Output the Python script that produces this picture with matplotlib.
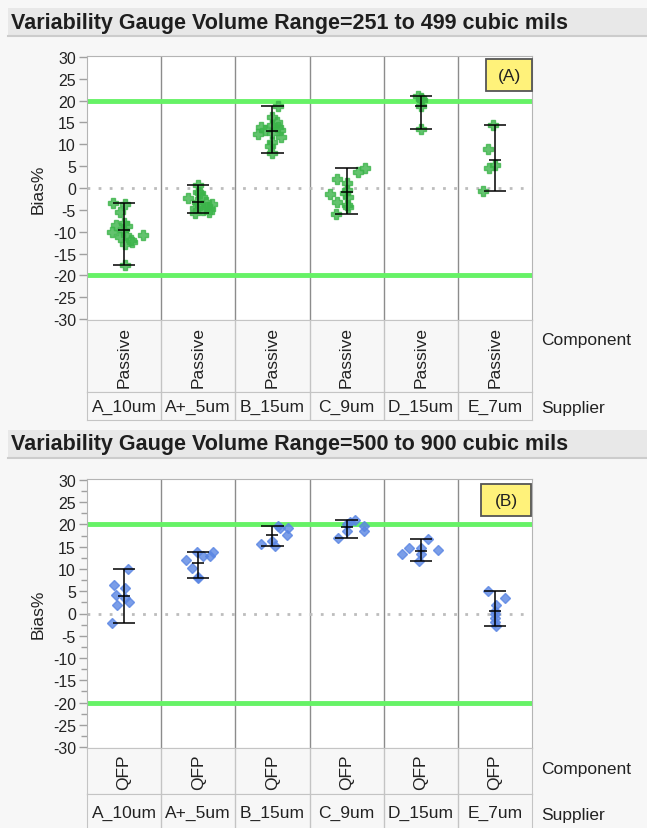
import matplotlib.pyplot as plt
from matplotlib.patches import Rectangle
from matplotlib.lines import Line2D

plt.rcParams['font.family'] = ['Liberation Sans', 'DejaVu Sans']
plt.rcParams['axes.unicode_minus'] = False

W, H = 647, 829

suppliers = ["A_10um", "A+_5um", "B_15um", "C_9um", "D_15um", "E_7um"]

# Bias% per supplier, volume range 251 to 499 cubic mils (Passive)
passive_bias = [
    [-3.4, -3.7, -5.4, -8.1, -8.5, -10.0, -9.6, -10.8, -11.8, -12.7, -10.7, -17.6, -8.8, -11.1, -12.3],
    [0.8, -2.4, -1.2, -2.0, -3.1, -3.6, -4.3, -5.8, -5.0, -5.6, -3.9, -1.0, -3.1, -4.6, -4.8],
    [18.8, 16.3, 14.0, 14.4, 13.9, 13.3, 12.4, 12.5, 11.6, 10.6, 9.5, 8.0, 13.3, 15.2],
    [4.5, 3.7, 2.0, 1.2, -1.2, -1.4, -2.0, -3.1, -3.9, -4.4, -6.0, -0.5],
    [21.0, 20.6, 20.2, 18.7, 13.6],
    [14.4, 9.0, 5.3, 4.5, -0.6],
]
# horizontal jitter of each point within its column
passive_jitter = [
    [-0.15, 0.01, -0.05, 0.0, -0.11, -0.16, -0.01, 0.02, 0.09, 0.01, 0.25, 0.01, 0.04, -0.05, 0.11],
    [0.0, -0.14, 0.03, 0.05, -0.02, 0.18, 0.12, -0.04, 0.07, 0.14, 0.03, 0.0, 0.1, -0.05, 0.16],
    [0.07, -0.01, -0.15, -0.01, 0.08, 0.1, -0.19, 0.0, 0.12, -0.01, -0.03, 0.0, -0.1, 0.06],
    [0.25, 0.16, -0.13, 0.0, -0.02, -0.22, 0.02, -0.13, 0.0, 0.02, -0.14, 0.0],
    [-0.04, 0.01, 0.02, 0.0, 0.0],
    [-0.03, -0.1, 0.0, -0.08, -0.16],
]

# Bias% per supplier, volume range 500 to 900 cubic mils (QFP)
qfp_bias = [
    [9.9, 6.5, 5.8, 4.1, 3.5, 2.6, 1.8, -2.1],
    [13.7, 13.7, 12.9, 12.8, 12.0, 10.2, 8.0, 8.2],
    [19.7, 19.1, 17.7, 16.3, 15.6, 15.2, 19.3],
    [21.0, 20.6, 20.1, 19.7, 18.6, 18.6, 16.9],
    [16.7, 14.7, 14.3, 14.6, 13.3, 13.3, 11.8],
    [5.0, 3.5, 1.8, 0.5, -0.2, -1.0, -2.0, -2.9],
]
qfp_jitter = [
    [0.05, -0.13, 0.01, -0.11, 0.01, 0.07, -0.09, -0.16],
    [-0.02, 0.2, 0.07, 0.16, -0.16, -0.09, 0.0, 0.0],
    [0.07, 0.21, 0.2, 0.0, -0.16, 0.03, 0.1],
    [0.11, 0.05, 0.0, 0.23, 0.23, 0.0, -0.12],
    [0.1, -0.16, 0.23, 0.01, -0.25, 0.0, -0.02],
    [-0.1, 0.13, 0.01, 0.0, 0.0, 0.0, 0.0, 0.01],
]

spec_limits = [20, -20]
yticks = list(range(-30, 31, 5))


def fbox(l, t, r, b):
    return [l / W, 1 - b / H, (r - l) / W, (b - t) / H]


def title_bar(fig, top, bottom, text):
    fig.add_artist(Rectangle((8 / W, 1 - bottom / H), (W - 8) / W, (bottom - top) / H,
                             transform=fig.transFigure, facecolor="#e8e8e8",
                             edgecolor="none"))
    fig.add_artist(Line2D([8 / W, 1], [1 - bottom / H] * 2, transform=fig.transFigure,
                          color="#cccccc", lw=1.5))
    fig.text(11 / W, 1 - (top + bottom) / 2 / H, text, fontsize=15.5, fontweight="bold",
             color="#1e1e1e", va="center", ha="left")


def draw_panel(fig, top, bottom, comp_bottom, sup_bottom, values, jitter, marker,
               color, msize, component, tag, tag_box, minor):
    ax = fig.add_axes(fbox(87, top, 532, bottom))
    ax.set_xlim(0, 6)
    ax.set_ylim(-30.2, 30.2)
    ax.set_facecolor("white")
    for s in ax.spines.values():
        s.set_color("#b4b4b4")
    for x in range(1, 6):
        ax.axvline(x, color="#8c8c8c", lw=1.0, zorder=1)

    ax.axhline(0, color="#bdbdbd", lw=2, ls=(0, (1, 3)), zorder=1)
    for lim in spec_limits:
        ax.axhline(lim, color="#66f266", lw=3.5, zorder=2)

    for i, (vals, jit) in enumerate(zip(values, jitter)):
        xc = i + 0.5
        xs = [xc + j for j in jit]
        ax.plot(xs, vals, ls="none", marker=marker, ms=msize, color=color,
                mec=color, alpha=0.8, zorder=3)
        lo, hi = min(vals), max(vals)
        mean = sum(vals) / len(vals)
        ax.vlines(xc, lo, hi, color="black", lw=1.1, zorder=4)
        ax.hlines([lo, hi], xc - 0.15, xc + 0.15, color="black", lw=1.1, zorder=4)
        ax.hlines(mean, xc - 0.08, xc + 0.08, color="black", lw=1.1, zorder=4)

    ax.set_xticks([])
    ax.set_yticks(yticks)
    ax.tick_params(axis="y", length=6, width=1, color="#a0a0a0", labelsize=11.5,
                   labelcolor="#222222", pad=2)
    if minor:
        ax.set_yticks([t + 2.5 for t in yticks[:-1]], minor=True)
        ax.tick_params(axis="y", which="minor", length=4, width=1, color="#a0a0a0")
    for t in ax.yaxis.get_major_ticks():
        if abs(t.get_loc()) == 20:
            t.tick1line.set_color("#66f266")
            t.tick1line.set_markeredgewidth(3.5)
            t.label1.set_color("#7cf07c")
    ax.set_ylabel("Bias%", fontsize=12.5, color="#222222", labelpad=5)

    # boxed panel tag in the upper right corner
    x0, y0, x1, y1 = tag_box
    ax.add_patch(Rectangle((x0, y0), x1 - x0, y1 - y0, transform=ax.transAxes,
                           facecolor="#fff27a", edgecolor="#555555", lw=1.3,
                           zorder=6, clip_on=False))
    ax.text((x0 + x1) / 2, (y0 + y1) / 2, tag, transform=ax.transAxes, fontsize=12.5,
            ha="center", va="center", color="#222222", zorder=7)

    # category header rows under the plot
    for (t, b, labels, rot) in [
        (bottom, comp_bottom, [component] * 6, 90),
        (comp_bottom, sup_bottom, suppliers, 0),
    ]:
        hx = fig.add_axes(fbox(87, t, 532, b))
        hx.set_xlim(0, 6)
        hx.set_ylim(0, 1)
        hx.set_facecolor("#f7f7f7")
        hx.set_xticks([])
        hx.set_yticks([])
        for s in hx.spines.values():
            s.set_color("#c4c4c4")
        for x in range(1, 6):
            hx.axvline(x, color="#c4c4c4", lw=1.0)
        for i, lab in enumerate(labels):
            hx.text(i + 0.5, 0.5, lab, rotation=rot, ha="center", va="center",
                    fontsize=12.5, color="#222222")
    return ax


fig = plt.figure(figsize=(W / 100, H / 100), dpi=100)
fig.patch.set_facecolor("#f7f7f7")

title_bar(fig, 9, 37, "Variability Gauge Volume Range=251 to 499 cubic mils")
draw_panel(fig, 57, 321, 393, 421, passive_bias, passive_jitter, "P", "#3cb44a", 7.5,
           "Passive", "(A)", (0.897, 0.867, 1.0, 0.989), False)
fig.text(541 / W, 1 - 341 / H, "Component", fontsize=12.5, va="center", color="#222222")
fig.text(541 / W, 1 - 409 / H, "Supplier", fontsize=12.5, va="center", color="#222222")

title_bar(fig, 431, 459, "Variability Gauge Volume Range=500 to 900 cubic mils")
draw_panel(fig, 480, 749, 795, 832, qfp_bias, qfp_jitter, "D", "#5a86e3", 5,
           "QFP", "(B)", (0.886, 0.862, 0.997, 0.981), True)
fig.text(541 / W, 1 - 770 / H, "Component", fontsize=12.5, va="center", color="#222222")
fig.text(541 / W, 1 - 816 / H, "Supplier", fontsize=12.5, va="center", color="#222222")

fig.savefig("out.png", dpi=100, facecolor=fig.get_facecolor())
